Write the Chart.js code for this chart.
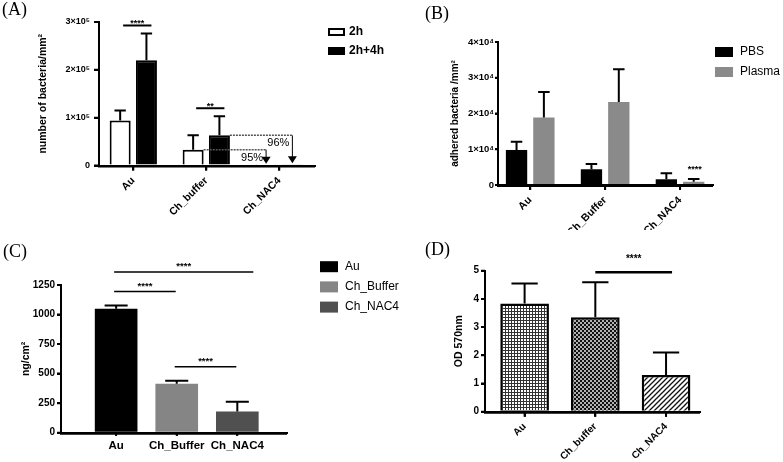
<!DOCTYPE html>
<html>
<head>
<meta charset="utf-8">
<script src="https://cdn.jsdelivr.net/npm/chart.js@4.4.1/dist/chart.umd.min.js"></script>
<style>
  body { margin: 0; background: #fff; width: 783px; height: 462px; position: relative; overflow: hidden; }
  canvas { position: absolute; }
</style>
</head>
<body>
<canvas id="chartA" width="400" height="230" style="left:0;top:0"></canvas>
<canvas id="chartB" width="383" height="230" style="left:400px;top:0"></canvas>
<canvas id="chartC" width="400" height="232" style="left:0;top:230px"></canvas>
<canvas id="chartD" width="383" height="232" style="left:400px;top:230px"></canvas>
<script>
const FONT = "'Liberation Sans', Arial, sans-serif";
Chart.defaults.font.family = FONT;
Chart.defaults.color = '#000';

// (A) bacteria after 2h / 2h+4h
const aCats = ['Au', 'Ch_buffer', 'Ch_NAC4'];
const aSeries = ['2h', '2h+4h'];
const a2h = [94000, 33000, 1500];
const a2hSd = [21000, 30000, 0];
const a2h4h = [220000, 63000, 2500];
const a2h4hSd = [56000, 40000, 0];
const aStars = ['****', '**', ''];
const aDrop = ['95%', '96%'];

// (B) adhered bacteria in PBS / plasma
const bCats = ['Au', 'Ch_Buffer', 'Ch_NAC4'];
const bSeries = ['PBS', 'Plasma'];
const bPbs = [9800, 4400, 1600];
const bPbsSd = [2300, 1500, 1700];
const bPlasma = [18900, 23200, 900];
const bPlasmaSd = [7100, 9200, 800];
const bStars = ['', '', '****'];

// (C) ng/cm2
const cCats = ['Au', 'Ch_Buffer', 'Ch_NAC4'];
const cVals = [1048, 414, 179];
const cSd = [28, 26, 82];
const cPairs = [[0, 1, '****'], [1, 2, '****'], [0, 2, '****']];

// (D) OD 570nm
const dCats = ['Au', 'Ch_buffer', 'Ch_NAC4'];
const dVals = [3.84, 3.35, 1.30];
const dSd = [0.71, 1.24, 0.80];
const dPairs = [[1, 2, '****']];

// colours
const aColors = ['#fff', '#000'];
const bColors = ['#000', '#8a8a8a'];
const cColors = ['#000', '#858585', '#505050'];

const pts = arr => arr.map((v, i) => ({ x: i, y: v }));

// fill patterns for panel D
function pattern(kind) {
  const c = document.createElement('canvas');
  const g = c.getContext('2d');
  if (kind === 'grid') {
    c.width = c.height = 3;
    g.fillStyle = '#fff'; g.fillRect(0, 0, 3, 3);
    g.fillStyle = '#333'; g.fillRect(0, 0, 3, 1); g.fillRect(0, 0, 1, 3);
  } else if (kind === 'dots') {
    c.width = c.height = 4;
    g.fillStyle = '#111'; g.fillRect(0, 0, 4, 4);
    g.fillStyle = '#fff';
    g.beginPath(); g.arc(1, 1, 0.9, 0, Math.PI * 2); g.arc(3, 3, 0.9, 0, Math.PI * 2); g.fill();
  } else {
    c.width = c.height = 5;
    g.fillStyle = '#fff'; g.fillRect(0, 0, 5, 5);
    g.strokeStyle = '#111'; g.lineWidth = 1.3;
    g.beginPath();
    g.moveTo(0, 5); g.lineTo(5, 0);
    g.moveTo(-1, 1); g.lineTo(1, -1);
    g.moveTo(4, 6); g.lineTo(6, 4);
    g.stroke();
  }
  return g.createPattern(c, 'repeat');
}

function xAxis(cats, min, max, height, rot, size, tick, pad) {
  return {
    type: 'linear', min: min, max: max, bounds: 'data', offset: false,
    afterBuildTicks: s => { s.ticks = cats.map((c, i) => ({ value: i })); },
    afterFit: s => { s.height = height; s.paddingLeft = 0; s.paddingRight = 0; },
    grid: { offset: false, drawOnChartArea: false, color: '#000', lineWidth: 2, tickLength: tick },
    border: { color: '#000', width: 2 },
    ticks: { autoSkip: false, minRotation: rot, maxRotation: rot, padding: pad, color: '#000',
             font: { weight: 'bold', size: size }, callback: v => cats[v] }
  };
}

function yAxis(o) {
  return {
    min: 0, max: o.max,
    afterFit: s => { s.width = o.width; s.paddingTop = 0; s.paddingBottom = 0; },
    grid: { drawOnChartArea: false, color: '#000', lineWidth: 2, tickLength: o.tick },
    border: { color: '#000', width: 2 },
    ticks: { stepSize: o.step, padding: o.pad, color: '#000', font: { weight: 'bold', size: o.size }, callback: o.fmt },
    title: { display: true, text: o.title, color: '#000', font: { weight: 'bold', size: o.titleSize },
             padding: { top: o.titlePad, bottom: 0 } }
  };
}

// one set of helper plugins per chart, each with its own id
function panelPlugins(tag, tx, ty, legend, marks) {
  return [{
    id: 'err' + tag,
    afterDatasetsDraw(chart) {
      // upper error bars from dataset.sd
      const ctx = chart.ctx, ys = chart.scales.y;
      ctx.save();
      ctx.strokeStyle = '#000';
      ctx.lineWidth = 2;
      chart.data.datasets.forEach((ds, di) => {
        chart.getDatasetMeta(di).data.forEach((bar, i) => {
          if (!ds.sd || !ds.sd[i]) return;
          const top = ys.getPixelForValue(ds.data[i].y + ds.sd[i]);
          const half = bar.width * 0.27;
          ctx.beginPath();
          ctx.moveTo(bar.x, bar.y); ctx.lineTo(bar.x, top);
          ctx.moveTo(bar.x - half, top); ctx.lineTo(bar.x + half, top);
          ctx.stroke();
        });
      });
      ctx.restore();
      if (marks) marks(chart);
    },
    afterDraw(chart) {
      const ctx = chart.ctx, a = chart.chartArea, xs = chart.scales.x, ys = chart.scales.y;
      ctx.save();
      // axis lines and tick marks from the scales
      ctx.strokeStyle = '#000';
      ctx.lineWidth = 2;
      ctx.beginPath();
      ctx.moveTo(a.left, a.top); ctx.lineTo(a.left, a.bottom + 1); ctx.lineTo(a.right, a.bottom + 1);
      ys.ticks.forEach((t, i) => {
        const y = ys.getPixelForTick(i);
        ctx.moveTo(a.left - ys.options.grid.tickLength, y); ctx.lineTo(a.left, y);
      });
      xs.ticks.forEach((t, i) => {
        const x = xs.getPixelForTick(i);
        ctx.moveTo(x, a.bottom); ctx.lineTo(x, a.bottom + xs.options.grid.tickLength);
      });
      ctx.stroke();
      // panel letter
      ctx.fillStyle = '#000';
      ctx.font = "18px 'Liberation Serif', 'DejaVu Serif', serif";
      ctx.textAlign = 'left'; ctx.textBaseline = 'alphabetic';
      ctx.fillText(tag, tx, ty);
      // legend
      if (legend) {
        const o = legend;
        ctx.font = o.font;
        ctx.textBaseline = 'middle';
        o.items.forEach((it, i) => {
          const cy = o.y + i * o.dy;
          ctx.fillStyle = it.fill;
          ctx.fillRect(o.x, cy - o.h / 2, o.w, o.h);
          if (it.stroke) {
            ctx.strokeStyle = it.stroke; ctx.lineWidth = 2;
            ctx.strokeRect(o.x + 1, cy - o.h / 2 + 1, o.w - 2, o.h - 2);
          }
          ctx.fillStyle = '#000';
          ctx.fillText(it.text, o.textX, cy);
        });
      }
      ctx.restore();
    }
  }];
}

// significance brackets between categories
function drawPairs(chart, pairs, vals, sd, o) {
  const ctx = chart.ctx, xs = chart.scales.x, ys = chart.scales.y;
  const placed = [];
  ctx.save();
  ctx.strokeStyle = '#000'; ctx.fillStyle = '#000'; ctx.lineWidth = o.width;
  ctx.font = 'bold ' + o.size + 'px ' + FONT;
  ctx.textAlign = 'center'; ctx.textBaseline = 'alphabetic';
  pairs.forEach(([a, b, s]) => {
    let y = Infinity;
    for (let i = a; i <= b; i++) y = Math.min(y, ys.getPixelForValue(vals[i] + sd[i]) - o.gap);
    const inner = placed.filter(p => p.a >= a && p.b <= b);
    inner.forEach(p => { y = Math.min(y, p.y - o.step); });
    placed.push({ a, b, y });
    const x1 = xs.getPixelForValue(a) + o.start;
    const x2 = xs.getPixelForValue(b) + (inner.length ? 16 : o.over);
    ctx.beginPath(); ctx.moveTo(x1, y); ctx.lineTo(x2, y); ctx.stroke();
    ctx.fillText(s, (x1 + x2) / 2, y - o.lift);
  });
  ctx.restore();
}

function baseOptions() {
  return {
    responsive: false, animation: false, devicePixelRatio: 1,
    plugins: { legend: { display: false }, tooltip: { enabled: false } }
  };
}

// ---------- (A)
function aMarks(chart) {
  const ctx = chart.ctx, ys = chart.scales.y;
  const m0 = chart.getDatasetMeta(0).data, m1 = chart.getDatasetMeta(1).data;
  ctx.save();
  ctx.fillStyle = '#000'; ctx.strokeStyle = '#000';
  aStars.forEach((s, i) => {
    if (!s) return;
    const y = Math.min(ys.getPixelForValue(a2h[i] + a2hSd[i]), ys.getPixelForValue(a2h4h[i] + a2h4hSd[i])) - 8;
    ctx.lineWidth = 2;
    ctx.beginPath(); ctx.moveTo(m0[i].x + 3, y); ctx.lineTo(m1[i].x + 5, y); ctx.stroke();
    ctx.font = 'bold 9px ' + FONT; ctx.textAlign = 'center'; ctx.textBaseline = 'alphabetic';
    ctx.fillText(s, (m0[i].x + m1[i].x) / 2 + 4, y + 1);
  });
  [m0, m1].forEach((m, k) => {
    const from = m[1], to = m[2];
    const y = from.y, x0 = from.x + from.width / 2, xa = to.x;
    ctx.strokeStyle = '#555'; ctx.lineWidth = 1.5; ctx.setLineDash([2, 1]);
    ctx.beginPath(); ctx.moveTo(x0, y); ctx.lineTo(xa, y); ctx.stroke();
    ctx.setLineDash([]); ctx.strokeStyle = '#000'; ctx.lineWidth = 1;
    const tip = to.y - 1;
    ctx.beginPath(); ctx.moveTo(xa, y); ctx.lineTo(xa, tip - 6); ctx.stroke();
    ctx.beginPath(); ctx.moveTo(xa - 4.5, tip - 7); ctx.lineTo(xa + 4.5, tip - 7); ctx.lineTo(xa, tip); ctx.closePath(); ctx.fill();
    ctx.font = '11px ' + FONT; ctx.textAlign = 'right'; ctx.textBaseline = 'middle';
    ctx.fillText(aDrop[k], xa - 3, y + 8);
  });
  ctx.restore();
}

new Chart(document.getElementById('chartA'), {
  type: 'bar',
  data: {
    datasets: [
      { label: aSeries[0], data: pts(a2h), sd: a2hSd, backgroundColor: aColors[0], borderColor: '#000', borderWidth: 2,
        categoryPercentage: 0.72, barPercentage: 0.8 },
      { label: aSeries[1], data: pts(a2h4h), sd: a2h4hSd, backgroundColor: aColors[1], borderColor: '#000', borderWidth: 2,
        categoryPercentage: 0.72, barPercentage: 0.8 }
    ]
  },
  options: Object.assign(baseOptions(), {
    layout: { padding: { left: 0, top: 22, right: 85, bottom: 0 } },
    scales: {
      x: xAxis(aCats, -0.47, 2.49, 64.5, 45, 10.5, 5, 4),
      y: yAxis({ max: 300000, step: 100000, width: 99, tick: 5, pad: 4, size: 9,
                 fmt: v => v === 0 ? '0' : (v / 100000) + '×10⁵',
                 title: 'number of bacteria/mm²', titleSize: 10.5, titlePad: 36.7 })
    }
  }),
  plugins: panelPlugins('(A)', 2, 15, {
    x: 328, y: 32, dy: 19, w: 17, h: 8, textX: 349, font: 'bold 12px ' + FONT,
    items: aSeries.map((s, i) => ({ text: s, fill: aColors[i], stroke: i === 0 ? '#000' : null }))
  }, aMarks)
});

// ---------- (B)
function bMarks(chart) {
  const ctx = chart.ctx, ys = chart.scales.y;
  const m1 = chart.getDatasetMeta(1).data;
  ctx.save();
  ctx.fillStyle = '#000';
  ctx.font = 'bold 9px ' + FONT; ctx.textAlign = 'center'; ctx.textBaseline = 'alphabetic';
  bStars.forEach((s, i) => {
    if (!s) return;
    ctx.fillText(s, m1[i].x + 1, ys.getPixelForValue(bPlasma[i] + bPlasmaSd[i]) - 6.5);
  });
  ctx.restore();
}

new Chart(document.getElementById('chartB'), {
  type: 'bar',
  data: {
    datasets: [
      { label: bSeries[0], data: pts(bPbs), sd: bPbsSd, backgroundColor: bColors[0], borderWidth: 0,
        categoryPercentage: 0.73, barPercentage: 0.78 },
      { label: bSeries[1], data: pts(bPlasma), sd: bPlasmaSd, backgroundColor: bColors[1], borderWidth: 0,
        categoryPercentage: 0.73, barPercentage: 0.78 }
    ]
  },
  options: Object.assign(baseOptions(), {
    layout: { padding: { left: 0, top: 42, right: 70, bottom: 0 } },
    scales: {
      x: xAxis(bCats, -0.43, 2.44, 45, 45, 10.5, 5, 4),
      y: yAxis({ max: 40000, step: 10000, width: 98, tick: 3, pad: 1, size: 9.5,
                 fmt: v => v === 0 ? '0' : (v / 10000) + '×10⁴',
                 title: 'adhered bacteria /mm²', titleSize: 10, titlePad: 49 })
    }
  }),
  plugins: panelPlugins('(B)', 25, 19, {
    x: 315, y: 52, dy: 20, w: 18, h: 10, textX: 340, font: '12px ' + FONT,
    items: bSeries.map((s, i) => ({ text: s, fill: bColors[i] }))
  }, bMarks)
});

// ---------- (C)
new Chart(document.getElementById('chartC'), {
  type: 'bar',
  data: {
    datasets: [
      { label: 'ng/cm²', data: pts(cVals), sd: cSd, backgroundColor: cColors, borderWidth: 0,
        categoryPercentage: 0.8, barPercentage: 0.88 }
    ]
  },
  options: Object.assign(baseOptions(), {
    layout: { padding: { left: 0, top: 55, right: 113, bottom: 0 } },
    scales: {
      x: xAxis(cCats, -0.91, 2.82, 29.3, 0, 11.5, 3, 3),
      y: yAxis({ max: 1250, step: 250, width: 61, tick: 4, pad: 2, size: 10,
                 fmt: v => String(v), title: 'ng/cm²', titleSize: 10.5, titlePad: 19.4 })
    }
  }),
  plugins: panelPlugins('(C)', 3, 27, {
    x: 320, y: 36.7, dy: 20.2, w: 18, h: 11, textX: 345, font: '12px ' + FONT,
    items: cCats.map((s, i) => ({ text: s, fill: cColors[i] }))
  }, chart => drawPairs(chart, cPairs, cVals, cSd, { width: 1.5, size: 9.5, gap: 14, step: 19.6, start: -2, over: -1, lift: 3 }))
});

// ---------- (D)
new Chart(document.getElementById('chartD'), {
  type: 'bar',
  data: {
    datasets: [
      { label: 'OD 570nm', data: pts(dVals), sd: dSd,
        backgroundColor: [pattern('grid'), pattern('dots'), pattern('hatch')],
        borderColor: '#000', borderWidth: 2.5,
        categoryPercentage: 0.8, barPercentage: 0.86 }
    ]
  },
  options: Object.assign(baseOptions(), {
    layout: { padding: { left: 0, top: 40.7, right: 83, bottom: 0 } },
    scales: {
      x: xAxis(dCats, -0.56, 2.48, 50.3, 45, 10, 5, 4),
      y: yAxis({ max: 5, step: 1, width: 85, tick: 4, pad: 2, size: 10,
                 fmt: v => String(v), title: 'OD 570nm', titleSize: 10.5, titlePad: 52.7 })
    }
  }),
  plugins: panelPlugins('(D)', 25, 25, null,
    chart => drawPairs(chart, dPairs, dVals, dSd, { width: 2.5, size: 10, gap: 10, step: 20, start: 0, over: 6, lift: 10 }))
});
</script>
</body>
</html>
